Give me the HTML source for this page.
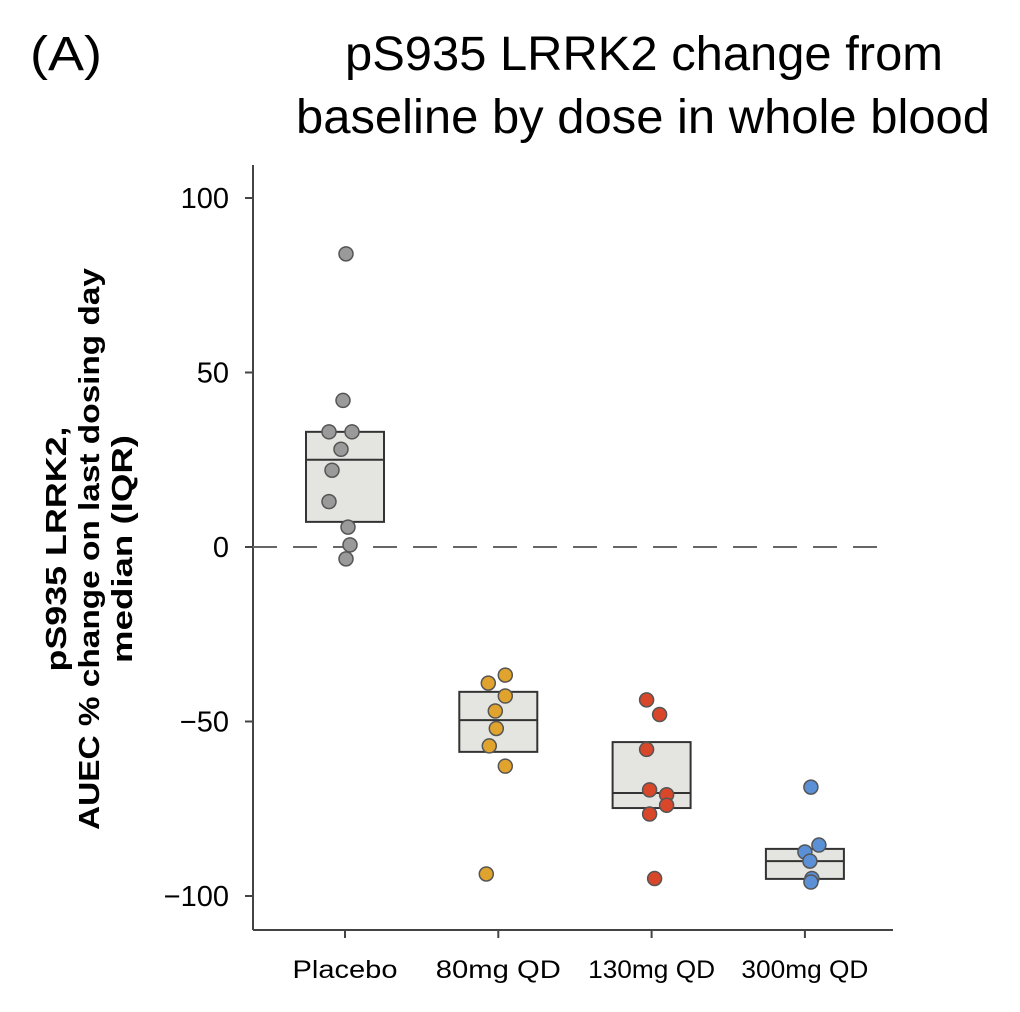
<!DOCTYPE html>
<html><head><meta charset="utf-8"><style>
html,body{margin:0;padding:0;background:#fff;}
svg{display:block;font-family:"Liberation Sans",Arial,sans-serif;}
</style></head><body>
<svg id="chart" width="1020" height="1012" viewBox="0 0 1020 1012">
<text x="30" y="70" font-size="48" textLength="72" lengthAdjust="spacingAndGlyphs">(A)</text>
<text x="345" y="70" font-size="48" textLength="598" lengthAdjust="spacingAndGlyphs">pS935 LRRK2 change from</text>
<text x="296" y="133" font-size="48" textLength="694" lengthAdjust="spacingAndGlyphs">baseline by dose in whole blood</text>
<g transform="translate(0,549) rotate(-90)" font-size="29" font-weight="bold" text-anchor="middle">
<text x="0" y="66" textLength="245" lengthAdjust="spacingAndGlyphs">pS935 LRRK2,</text>
<text x="0" y="99" textLength="562" lengthAdjust="spacingAndGlyphs">AUEC % change on last dosing day</text>
<text x="0" y="132" textLength="228" lengthAdjust="spacingAndGlyphs">median (IQR)</text>
</g>
<g id="plot"></g>
</svg>
<script>
const categories=["Placebo","80mg QD","130mg QD","300mg QD"];
const colors=["#9a9a9a","#e0a32e","#d9472a","#5b8fd6"];
const yTicks=[100,50,0,-50,-100];
const q1=[7.2,-58.7,-74.8,-95.1];
const medians=[25,-49.6,-70.5,-90];
const q3=[33,-41.5,-55.9,-86.5];
const ptsPlacebo=[84,42,33,33,28,22,13,5.7,0.6,-3.4];
const ptsPlaceboJit=[1,-2,-16,7,-4,-13,-16,3,5,1];
const pts80=[-36.7,-39,-42.7,-47,-52,-57,-62.8,-93.7];
const pts80Jit=[7,-10,7,-3,-2,-9,7,-12];
const pts130=[-43.8,-48,-58,-69.6,-71,-74,-76.5,-95];
const pts130Jit=[-5,8,-5,-2,15,15,-2,3];
const pts300=[-68.8,-85.4,-87.4,-90,-95,-96];
const pts300Jit=[6,14,0,5,7,6];
const points=[ptsPlacebo,pts80,pts130,pts300];
const jits=[ptsPlaceboJit,pts80Jit,pts130Jit,pts300Jit];
const labelW=[105,125,127,127];

const NS="http://www.w3.org/2000/svg";
const g=document.getElementById('plot');
const y=v=>547-v*3.49;
const xc=i=>345+i*153.3;
function mk(t,a){const e=document.createElementNS(NS,t);for(const k in a)e.setAttribute(k,a[k]);g.appendChild(e);return e;}
let e=mk('line',{x1:253,y1:165,x2:253,y2:930,stroke:'#444','stroke-width':2});


e=mk('line',{x1:253,y1:930,x2:893,y2:930,stroke:'#444','stroke-width':2});


yTicks.forEach(t=>{
 const tk=mk('line',{x1:245,x2:253,y1:y(t),y2:y(t),stroke:'#444','stroke-width':2});
 
 
 const tx=mk('text',{x:229,y:y(t)+10,'font-size':29,'text-anchor':'end'});
 tx.textContent=t<0?'\u2212'+(-t):String(t);
 
 
});
e=mk('line',{x1:253,x2:880,y1:y(0),y2:y(0),stroke:'#666','stroke-width':2,'stroke-dasharray':'24 16'});


categories.forEach((c,i)=>{
 const x=xc(i);
 const tk=mk('line',{x1:x,x2:x,y1:930,y2:938,stroke:'#444','stroke-width':2});
 
 
 const tx=mk('text',{x:x,y:978,'font-size':25,'text-anchor':'middle',textLength:labelW[i],lengthAdjust:'spacingAndGlyphs'});
 tx.textContent=c;
 
 
 const b=mk('rect',{x:x-39,y:y(q3[i]),width:78,height:y(q1[i])-y(q3[i]),fill:'#e4e5e0',stroke:'#333','stroke-width':2});
 
 
 const m=mk('line',{x1:x-39,x2:x+39,y1:y(medians[i]),y2:y(medians[i]),stroke:'#333','stroke-width':2});
 
 
 points[i].forEach((v,j)=>{
  const p=mk('circle',{cx:x+jits[i][j],cy:y(v),r:7,fill:colors[i],stroke:'#555','stroke-width':1.5});
  
  
 });
});
</script>
</body></html>
